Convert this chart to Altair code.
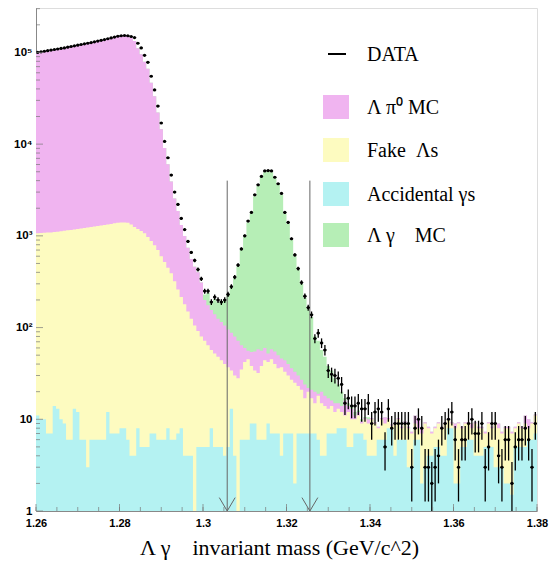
import altair as alt
import numpy as np
import pandas as pd

# ---------------- data ----------------
x_min, x_max, bin_w, n_bins = 1.26, 1.38, 0.0008, 150

data_counts = [
    100000, 101500, 103000, 104500, 106000, 107500, 109000, 110500, 112000, 114000,
    116000, 118000, 120000, 122000, 124000, 126000, 128000, 130500, 133000, 135500,
    138000, 141000, 144000, 147000, 150000, 152000, 153000, 152000, 149000, 145000,
    126000, 112000, 93000, 78000, 55000, 39000, 26000, 17000, 10700, 7100,
    4600, 3000, 2200, 1550, 1170, 870, 660, 540, 430, 340,
    250, 250, 190, 215, 200, 190, 200, 230, 280, 355,
    480, 720, 1000, 1450, 1800, 2800, 3600, 4450, 5100, 5150,
    5100, 4350, 3700, 2900, 1800, 1400, 930, 620, 440, 310,
    220, 165, 138, 76, 87, 68, 57, 34, 31, 30,
    28, 24, 15, 17, 14, 14, 15, 13, 13, 15,
    9, 12, 13, 12, 5, 13, 8, 9, 9, 9,
    9, 9, 3, 8, 10, 8, 3, 3, 2, 3,
    4, 8, 9, 10, 12, 6, 3, 6, 6, 9,
    10, 7, 7, 9, 3, 5, 9, 9, 4, 3,
    6, 6, 2, 5, 6, 6, 8, 6, 3, 9,
]

accidental_gammas = [
    11, 10, 10, 7, 7, 14, 13, 10, 9, 6,
    6, 13, 12, 6, 6, 3, 6, 6, 6, 6,
    6, 12, 7, 7, 7, 8, 8, 6, 4, 4,
    8, 5, 5, 5, 7, 7, 6, 6, 6, 8,
    6, 6, 7, 8, 4, 4, 4, 1, 5, 5,
    5, 5, 8, 5, 5, 5, 4, 5, 13, 4,
    1, 6, 6, 6, 9, 9, 6, 6, 6, 9,
    7, 7, 7, 4, 7, 7, 7, 2, 7, 7,
    7, 7, 7, 7, 6, 4, 4, 7, 7, 7,
    8, 8, 8, 5, 5, 7, 7, 7, 6, 4,
    4, 4, 6, 6, 6, 8, 8, 4, 6, 6,
    6, 3, 3, 6, 6, 2, 3, 4, 4, 5,
    5, 4, 4, 8, 8, 2, 2, 5, 5, 6,
    6, 4, 4, 4, 5, 5, 5, 3, 3, 3,
    2, 2, 1.5, 5, 5, 5, 5, 6, 6, 7,
]

fake_lambdas = [
    1059, 1065, 1070, 1078, 1083, 1086, 1097, 1110, 1126, 1144,
    1154, 1162, 1178, 1199, 1214, 1232, 1244, 1259, 1274, 1294,
    1309, 1318, 1343, 1363, 1383, 1392, 1392, 1384, 1326, 1246,
    1182, 1125, 1065, 965, 873, 783, 694, 594, 514, 442,
    384, 314, 253, 207, 176, 146, 121, 104, 87, 75,
    67, 59, 49, 47, 43, 39, 36, 32, 21, 26,
    27, 29, 36, 39, 29, 25, 26, 32, 38, 33,
    38, 33, 29, 33, 26, 23, 20, 23, 16, 14,
    10, 13, 10, 8, 12, 11, 10, 6, 7, 5,
    5, 4, 3, 7, 5, 3, 4, 2, 4, 5,
    6, 5, 2, 4, 3, 2, 0.5, 5, 4, 2,
    3, 5, 4, 3, 2, 5, 6, 4, 3, 3,
    4, 4, 5, 2, 1, 6, 7, 3, 4, 3,
    2, 5, 4, 4, 2, 4, 3, 6, 5, 4,
    6, 6, 5.5, 3, 4, 3, 4, 2, 3, 4,
]

lambda_pi0_mc = [
    98900, 100400, 101900, 103400, 104900, 106400, 107900, 109400, 110900, 112900,
    114800, 116800, 118800, 120800, 122800, 124800, 126800, 129200, 131700, 134200,
    136700, 139700, 142700, 145600, 148600, 150600, 151600, 150600, 143200, 132200,
    109700, 94100, 78000, 65300, 45900, 32400, 21400, 13900, 8580, 5590,
    3520, 2230, 1610, 1100, 815, 590, 436, 354, 308, 230,
    128, 111, 98, 88, 77, 71, 65, 58, 54, 50,
    44, 29, 18, 11, 16, 21, 26, 18, 16, 10,
    13, 15, 14, 9, 11, 10, 9, 8, 7, 6,
    7, 2, 4, 5, 1, 5, 4, 4, 2, 3,
    2, 2, 5, 2, 3, 1, 1, 0.5, 0.3, 1,
    0.3, 0.3, 0.3, 0.3, 1.5, 0.3, 0.3, 0.3, 0.3, 0.3,
    0.5, 0.3, 0.3, 2, 2, 1, 0.3, 0.3, 0.3, 0.3,
    0.3, 0.3, 0.3, 0.3, 0.3, 1, 0.3, 0.3, 0.3, 0.3,
    1, 0.3, 0.3, 0.3, 0.3, 0.3, 0.3, 0.3, 1, 0.3,
    0.3, 0.3, 0.3, 0.3, 0.3, 0.3, 2, 2, 0.3, 0.3,
]

lambda_gamma_mc = [
    0, 0, 0, 0, 0, 0, 0, 0, 0, 0,
    0, 0, 0, 0, 0, 0, 0, 0, 0, 0,
    0, 0, 0, 0, 0, 0, 0, 0, 0, 0,
    0, 0, 0, 0, 0, 0, 0, 0, 0, 0,
    0, 0, 0, 0, 0, 0, 0, 0, 0, 0,
    30, 65, 30, 65, 67, 70, 90, 130, 187, 265,
    393, 636, 910, 1344, 1696, 2645, 3442, 4294, 4890, 4998,
    4892, 4195, 3550, 2754, 1706, 1310, 864, 567, 395, 273,
    188, 138, 109, 60, 53, 37, 30, 21, 18, 13,
    9, 6, 1, 1, 0.5, 1, 0.5, 0.5, 0.3, 0.5,
    0, 0, 0, 0, 0, 0, 0, 0, 0, 0,
    0, 0, 0, 0, 0, 0, 0, 0, 0, 0,
    0, 0, 0, 0, 0, 0, 0, 0, 0, 0,
    0, 0, 0, 0, 0, 0, 0, 0, 0, 0,
    0, 0, 0, 0, 0, 0, 0, 0, 0, 0,
]

cut_positions = [1.3058, 1.3256]
cut_top = 4000
x_label_values = [1.26, 1.28, 1.30, 1.32, 1.34, 1.36, 1.38]
y_label_values = [1, 10, 100, 1000, 10000, 100000]
y_label_text = ["1", "10", "10²", "10³", "10⁴", "10⁵"]

series_names = ["Accidental γs", "Fake Λs", "Λπ0 MC", "Λγ MC"]
series_colors = ["#b4f2f2", "#fdfbc0", "#f0b4f0", "#b6eeb6"]

# ---------------- tables ----------------
edges = [round(x_min + bin_w * i, 5) for i in range(n_bins + 1)]
comps = np.array([accidental_gammas, fake_lambdas, lambda_pi0_mc, lambda_gamma_mc], dtype=float)
cum = np.cumsum(comps, axis=0)

hist_rows = []
for k, name in enumerate(series_names):
    tops = list(cum[k]) + [cum[k][-1]]
    for i in range(n_bins + 1):
        hist_rows.append({"series": name, "x": edges[i], "top": float(max(tops[i], 0.5))})
hist_df = pd.DataFrame(hist_rows)

d = np.array(data_counts, dtype=float)
err = np.sqrt(d)
data_df = pd.DataFrame({
    "c": [round(x_min + bin_w * (i + 0.5), 5) for i in range(n_bins)],
    "l": edges[:-1],
    "r": edges[1:],
    "n": d,
    "lo": np.maximum(d - err, 0.5),
    "hi": d + err,
})

cut_df = pd.DataFrame({"x": cut_positions, "y": [1] * 2, "y2": [cut_top] * 2})
arrow_rows = []
for cx in cut_positions:
    arrow_rows.append({"x": cx - 0.0019, "x2": cx, "y": 1.4, "y2": 1.0})
    arrow_rows.append({"x": cx + 0.0019, "x2": cx, "y": 1.4, "y2": 1.0})
arrow_df = pd.DataFrame(arrow_rows)

W, H = 501, 503
xscale = alt.Scale(domain=[x_min, x_max], nice=False, zero=False)
yscale = alt.Scale(type="log", domain=[1, 305000], nice=False)

label_expr = " : ".join(
    [f"datum.value == {v} ? '{t}'" for v, t in zip(y_label_values, y_label_text)] + ["''"]
)

XA = alt.Axis(
    values=x_label_values, labelExpr="format(datum.value, '.3~g')", ticks=False, grid=False,
    domainColor="#888", labelFont="Liberation Sans", labelFontWeight="bold", labelFontSize=11,
    labelColor="black", labelPadding=6, labelFlush=False,
    title="Λ γ\u00a0\u00a0\u00a0 invariant mass (GeV/c^2)", titleFont="Liberation Serif",
    titleFontSize=22, titleFontWeight="normal", titleColor="black", titlePadding=9,
    titleX=243, titleAnchor="middle",
)
YA = alt.Axis(
    values=y_label_values, labelExpr=label_expr, ticks=False, grid=False, domainColor="#888",
    labelFont="Liberation Sans", labelFontWeight="bold", labelFontSize=11.5, labelColor="black",
    labelPadding=4, title=None, labelFlush=False,
)


def X(field):
    return alt.X(field, scale=xscale, axis=XA)


def Y(field):
    return alt.Y(field, scale=yscale, axis=YA)


layers = []
# stacked histograms: paint from highest stack top to lowest
for k in [3, 2, 1, 0]:
    name = series_names[k]
    ch = alt.Chart(hist_df).transform_filter(alt.datum.series == name).mark_area(
        interpolate="step-after", color=series_colors[k], clip=True
    ).encode(x=X("x:Q"), y=Y("top:Q"), y2=alt.datum(1))
    layers.append(ch)

cuts = alt.Chart(cut_df).mark_rule(color="#666", strokeWidth=1).encode(
    x=X("x:Q"), y=Y("y:Q"), y2="y2:Q")
arrows = alt.Chart(arrow_df).mark_rule(color="#666", strokeWidth=1).encode(
    x=X("x:Q"), x2="x2:Q", y=Y("y:Q"), y2="y2:Q")
layers += [cuts, arrows]

ebar = alt.Chart(data_df).mark_rule(color="black", strokeWidth=1.3, clip=True).encode(
    x=X("c:Q"), y=Y("lo:Q"), y2="hi:Q")
hbar = alt.Chart(data_df).mark_rule(color="black", strokeWidth=1.2, clip=True).encode(
    x=X("l:Q"), x2="r:Q", y=Y("n:Q"))
dots = alt.Chart(data_df).mark_circle(color="black", size=10, opacity=1, clip=True).encode(
    x=X("c:Q"), y=Y("n:Q"))
layers += [ebar, hbar, dots]

# inside tick marks (ROOT style)
xt_minor = pd.DataFrame({"v": [round(x_min + 0.005 * i, 4) for i in range(25)]})
xt_major = pd.DataFrame({"v": x_label_values})
yt_minor = pd.DataFrame({"v": [m * 10 ** e for e in range(6) for m in range(2, 10) if m * 10 ** e < 305000]})
yt_major = pd.DataFrame({"v": y_label_values})
layers.append(alt.Chart(xt_minor).mark_tick(orient="vertical", size=4, thickness=1, color="#777").encode(
    x=X("v:Q"), y=alt.value(H - 2)))
layers.append(alt.Chart(xt_major).mark_tick(orient="vertical", size=7, thickness=1, color="#777").encode(
    x=X("v:Q"), y=alt.value(H - 3.5)))
layers.append(alt.Chart(yt_minor).mark_tick(orient="horizontal", size=4, thickness=1, color="#777").encode(
    y=Y("v:Q"), x=alt.value(2)))
layers.append(alt.Chart(yt_major).mark_tick(orient="horizontal", size=7, thickness=1, color="#777").encode(
    y=Y("v:Q"), x=alt.value(3.5)))

# legend (inside the frame, top right)
one = alt.Data(values=[{"a": 1}])
lx0, lx1, tx = 287, 313, 331
legend_font = dict(font="Liberation Serif", fontSize=20, color="black", align="left", baseline="middle")
layers.append(alt.Chart(one).mark_rule(color="black", strokeWidth=2).encode(
    x=alt.value(lx0 + 5), x2=alt.value(lx1 - 3), y=alt.value(46), y2=alt.value(46)))
layers.append(alt.Chart(one).mark_text(text="DATA", **legend_font).encode(
    x=alt.value(tx), y=alt.value(47)))
legend_items = [
    ("Λ π⁰ MC", series_colors[2], 87),
    ("Fake\u00a0\u00a0Λs", series_colors[1], 130),
    ("Accidental γs", series_colors[0], 174),
    ("Λ γ\u00a0\u00a0\u00a0 MC", series_colors[3], 215),
]
for text, col, y0 in legend_items:
    layers.append(alt.Chart(one).mark_rect(color=col).encode(
        x=alt.value(lx0), x2=alt.value(lx1), y=alt.value(y0), y2=alt.value(y0 + 24)))
    layers.append(alt.Chart(one).mark_text(text=text, **legend_font).encode(
        x=alt.value(tx), y=alt.value(y0 + 13)))

chart = alt.layer(*layers).properties(
    width=W, height=H, autosize="none",
    padding={"left": 36, "top": 8, "right": 16, "bottom": 56},
).configure_view(stroke="#aaa", strokeWidth=1).configure(background="white")

chart.save("out.html", embed_options={"renderer": "svg", "actions": False})
